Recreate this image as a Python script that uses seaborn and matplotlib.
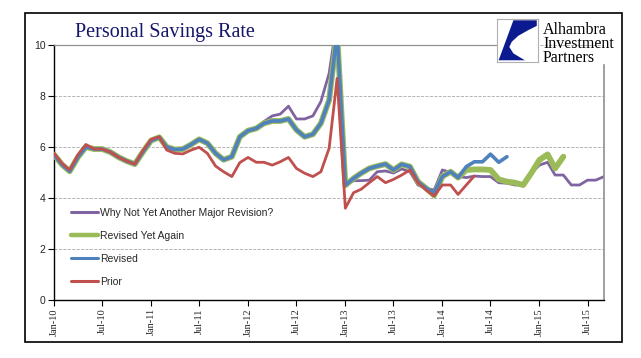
import numpy as np
import pandas as pd
import matplotlib
matplotlib.use('Agg')
import matplotlib.pyplot as plt
import matplotlib.dates as mdates
from matplotlib.patches import Rectangle, Polygon
import seaborn as sns

# monthly personal savings rate, Jan-10 onwards
why_not = [5.7, 5.3, 5.05, 5.6, 6.0, 5.92, 5.92, 5.8, 5.6, 5.45, 5.33, 5.8,
           6.25, 6.38, 6.0, 5.9, 5.92, 6.1, 6.3, 6.15, 5.75, 5.5, 5.62, 6.4,
           6.64, 6.73, 7.0, 7.22, 7.29, 7.6, 7.1, 7.1, 7.22, 7.78, 8.89, 11.0,
           4.5, 4.68, 4.68, 4.7, 5.03, 5.06, 4.98, 5.14, 5.03, 4.51, 4.38, 4.31,
           5.1, 5.0, 4.84, 4.8, 4.86, 4.84, 4.84, 4.6, 4.58, 4.51, 4.51, 4.97,
           5.29, 5.4, 4.9, 4.9, 4.51, 4.51, 4.7, 4.7, 4.84]
yet_again = [5.7, 5.3, 5.05, 5.6, 6.0, 5.92, 5.92, 5.8, 5.6, 5.45, 5.33, 5.8,
             6.25, 6.38, 6.0, 5.9, 5.92, 6.1, 6.3, 6.15, 5.75, 5.5, 5.62, 6.4,
             6.64, 6.73, 6.93, 7.02, 7.02, 7.1, 6.67, 6.4, 6.5, 6.93, 7.84, 10.5,
             4.5, 4.77, 4.97, 5.16, 5.25, 5.33, 5.1, 5.32, 5.23, 4.64, 4.38, 4.1,
             4.84, 5.03, 4.8, 5.1, 5.12, 5.12, 5.1, 4.73, 4.64, 4.6, 4.51, 4.97,
             5.49, 5.71, 5.16, 5.62]
revised = [5.7, 5.3, 5.05, 5.6, 6.0, 5.92, 5.92, 5.8, 5.6, 5.45, 5.33, 5.8,
           6.25, 6.38, 6.0, 5.9, 5.92, 6.1, 6.3, 6.15, 5.75, 5.5, 5.62, 6.4,
           6.64, 6.73, 6.93, 7.02, 7.02, 7.1, 6.67, 6.4, 6.5, 6.93, 7.84, 10.5,
           4.5, 4.77, 4.97, 5.16, 5.25, 5.33, 5.1, 5.32, 5.23, 4.64, 4.38, 4.2,
           4.84, 5.03, 4.8, 5.23, 5.42, 5.42, 5.72, 5.4, 5.62]
prior = [5.76, 5.35, 5.1, 5.7, 6.1, 5.92, 5.92, 5.8, 5.6, 5.45, 5.33, 5.85,
         6.3, 6.4, 5.88, 5.75, 5.73, 5.88, 5.99, 5.75, 5.25, 5.03, 4.84, 5.39,
         5.59, 5.4, 5.4, 5.29, 5.42, 5.59, 5.16, 4.97, 4.84, 5.03, 5.95, 8.69,
         3.6, 4.21, 4.34, 4.6, 4.84, 4.6, 4.73, 4.9, 5.1, 4.6, 4.31, 4.08,
         4.51, 4.51, 4.14, 4.51, 4.86]

names = ['Why Not Yet Another Major Revision?', 'Revised Yet Again', 'Revised', 'Prior']
values = [why_not, yet_again, revised, prior]
colors = ['#8064A2', '#9BBB59', '#4F81BD', '#C0504D']
widths = [2.0, 4.2, 2.6, 2.0]

months = pd.date_range('2010-01-01', periods=len(why_not), freq='MS')

frames = []
for n, v in zip(names, values):
    frames.append(pd.DataFrame({'date': months[:len(v)], 'rate': v, 'series': n}))
df = pd.concat(frames, ignore_index=True)

sns.set_theme(style='white')
plt.rcParams['font.family'] = ['Liberation Sans', 'DejaVu Sans']

fig = plt.figure(figsize=(6.41, 3.58), dpi=100)
ax = fig.add_axes([54/641, 1-300/358, 550/641, 255/358])

for i, (n, c, w) in enumerate(zip(names, colors, widths)):
    sns.lineplot(data=df[df.series == n], x='date', y='rate', color=c, lw=w,
                 ax=ax, label=n, zorder=2+i)

ax.set_ylim(0, 10)
ax.set_xlim(months[0], months[-1])
ax.set_yticks([0, 2, 4, 6, 8, 10])
ax.yaxis.grid(True, linestyle='--', color='#a8a8a8', lw=0.6)
ax.set_axisbelow(True)
ax.set_xlabel('')
ax.set_ylabel('')

ax.xaxis.set_major_locator(mdates.MonthLocator(bymonth=[1, 7]))
ax.xaxis.set_major_formatter(mdates.DateFormatter('%b-%y'))
for lab in ax.get_xticklabels():
    lab.set_rotation(90)
    lab.set_fontfamily('Liberation Serif')
    lab.set_fontsize(7.5)
ax.tick_params(axis='y', labelsize=7.5, length=4, width=0.8, color='black', direction='out', pad=2)
ax.tick_params(axis='x', length=4, width=0.8, color='black', direction='out', pad=2, bottom=True)
ax.tick_params(axis='y', left=True)

for s in ['left', 'bottom']:
    ax.spines[s].set_color('black')
    ax.spines[s].set_linewidth(1.0)
ax.spines['top'].set_color('#909090')
ax.spines['top'].set_linewidth(0.9)
ax.spines['top'].set_bounds(mdates.date2num(months[0]), mdates.date2num(pd.Timestamp('2014-07-20')))
ax.spines['right'].set_color('#909090')
ax.spines['right'].set_linewidth(1.2)
ax.spines['right'].set_bounds(0, 9.2)

leg = ax.legend(loc='center left', bbox_to_anchor=(0.03, 0.206), frameon=False,
                fontsize=7.5, handlelength=2.6, handletextpad=0.25,
                labelspacing=1.25, borderpad=0, borderaxespad=0)
for h, w in zip(leg.get_lines(), [2.2, 3.2, 2.2, 2.2]):
    h.set_linewidth(w)

fig.text(75/641, 1-37/358, 'Personal Savings Rate', fontsize=14.5,
         family='Liberation Serif', color='#15156a', va='baseline')

# logo
lax = fig.add_axes([497/641, 1-62/358, 41/641, 43/358])
lax.set_xlim(0, 1)
lax.set_ylim(0, 1)
lax.set_xticks([])
lax.set_yticks([])
for s in lax.spines.values():
    s.set_color('#b0b0b0')
    s.set_linewidth(0.8)
shape = [(0.4, 0.97), (0.97, 0.97), (0.97, 0.84), (0.76, 0.74), (0.52, 0.61),
         (0.36, 0.47), (0.30, 0.35), (0.40, 0.20), (0.68, 0.04), (0.04, 0.04)]
lax.add_patch(Polygon(shape, closed=True, color='#0b1a8f', lw=0))
fig.text(543/641, 1-22/358, 'Alhambra\nInvestment\nPartners', fontsize=11.5,
         family='Liberation Serif', color='black', va='top', ha='left',
         linespacing=0.84)

fig.patches.append(Rectangle((25/641, 16/358), 597/641, 329/358, transform=fig.transFigure,
                             fill=False, edgecolor='black', lw=1.2))

fig.savefig('out.png', dpi=100)
